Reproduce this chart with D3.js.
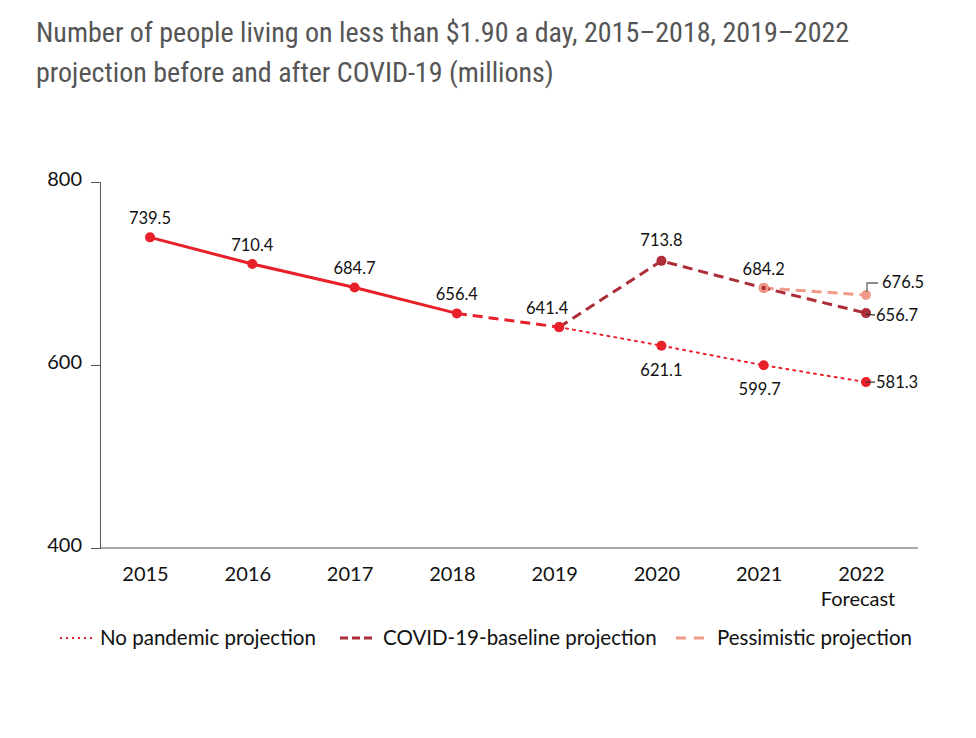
<!DOCTYPE html>
<html><head><meta charset="utf-8">
<script src="https://cdn.jsdelivr.net/npm/d3@7/dist/d3.min.js"></script>
<style>
body{margin:0;background:#fff;}
svg{display:block;}
</style></head>
<body><svg id="c" width="976" height="738"></svg>
<script>
const years = ["2015","2016","2017","2018","2019","2020","2021","2022"];
const actualYears = ["2015","2016","2017","2018"];
const actualValues = [739.5, 710.4, 684.7, 656.4];
const bridgeYears = ["2018","2019"];
const bridgeValues = [656.4, 641.4];
const projYears = ["2019","2020","2021","2022"];
const noPandemicValues = [641.4, 621.1, 599.7, 581.3];
const baselineValues = [641.4, 713.8, 684.2, 656.7];
const pessYears = ["2021","2022"];
const pessValues = [684.2, 676.5];
const yTicks = [400, 600, 800];

const RED = "#e8202a", DARK = "#ad2e38", PINK = "#f29a8a";
const svg = d3.select("#c");
const tickFont = "Lato, 'Open Sans', sans-serif";

// title
const title = svg.append("text").attr("x",36).attr("font-family","'Liberation Sans Narrow','Roboto Condensed',Roboto,sans-serif")
  .attr("font-size",28).attr("fill","#555");
title.append("tspan").attr("x",36).attr("y",42).text("Number of people living on less than $1.90 a day, 2015\u20132018, 2019\u20132022");
title.append("tspan").attr("x",36).attr("y",82).text("projection before and after COVID-19 (millions)");

const x = d3.scalePoint().domain(years).range([150, 866]);
const y = d3.scaleLinear().domain([400, 800]).range([548, 182]);

// axes
const yAxis = svg.append("g").attr("transform","translate(100,0)")
  .call(d3.axisLeft(y).tickValues(yTicks).tickSize(9).tickPadding(9));
yAxis.select(".domain").attr("stroke","#555");
yAxis.selectAll(".tick line").attr("stroke","#555");
yAxis.selectAll("text").attr("font-family",tickFont).attr("font-size",20).attr("fill","#111").attr("dy","0.15em");

svg.append("line").attr("x1",100).attr("x2",918).attr("y1",548).attr("y2",548).attr("stroke","#555");
const xAxisG = svg.append("g").attr("transform","translate(-5,548)")
  .call(d3.axisBottom(x).tickSize(0).tickPadding(19));
xAxisG.select(".domain").remove();
xAxisG.selectAll("text").attr("font-family",tickFont).attr("font-size",20).attr("fill","#111");
svg.append("text").attr("x",x("2022")-8).attr("y",606).attr("text-anchor","middle")
  .attr("font-family",tickFont).attr("font-size",20).attr("fill","#111").text("Forecast");

const line = d3.line().x(d=>x(d[0])).y(d=>y(d[1]));
const zip = (a,b)=>a.map((k,i)=>[k,b[i]]);

svg.append("path").datum(zip(projYears,noPandemicValues)).attr("d",line).attr("fill","none")
  .attr("stroke",RED).attr("stroke-width",2).attr("stroke-dasharray","2,5").attr("stroke-linecap","round");
svg.append("path").datum(zip(pessYears,pessValues)).attr("d",line).attr("fill","none")
  .attr("stroke",PINK).attr("stroke-width",3).attr("stroke-dasharray","10,6");
svg.append("path").datum(zip(projYears,baselineValues)).attr("d",line).attr("fill","none")
  .attr("stroke",DARK).attr("stroke-width",3).attr("stroke-dasharray","10,6");
svg.append("path").datum(zip(bridgeYears,bridgeValues)).attr("d",line).attr("fill","none")
  .attr("stroke",RED).attr("stroke-width",3).attr("stroke-dasharray","10,6");
svg.append("path").datum(zip(actualYears,actualValues)).attr("d",line).attr("fill","none")
  .attr("stroke",RED).attr("stroke-width",3);

function dots(data, color, r){
  svg.append("g").selectAll("circle").data(data).join("circle")
    .attr("cx",d=>x(d[0])).attr("cy",d=>y(d[1])).attr("r",r).attr("fill",color);
}
dots(zip(actualYears,actualValues), RED, 5);
dots(zip(projYears,noPandemicValues), RED, 5);
dots(zip(projYears.slice(1),baselineValues.slice(1)), DARK, 5);
dots(zip(pessYears,pessValues), PINK, 5);
dots([[ "2021", baselineValues[2] ]], DARK, 2.2);
dots([[ "2019", bridgeValues[1] ]], RED, 5);

// labels
const lab = svg.append("g").attr("font-family",tickFont).attr("font-size",16.5).attr("fill","#111");
function label(yr, v, dx, dy, anchor){
  lab.append("text").attr("x",x(yr)+dx).attr("y",y(v)+dy).attr("text-anchor",anchor||"middle").text(v.toFixed(1));
}
actualYears.forEach((yr,i)=>label(yr, actualValues[i], 0, -13));
label("2019", bridgeValues[1], -12, -13);
label("2020", baselineValues[1], 0, -15);
label("2021", baselineValues[2], 0, -13);
label("2020", noPandemicValues[1], 0, 30);
label("2021", noPandemicValues[2], -4, 30);
label("2022", noPandemicValues[3], 10, 6, "start");
label("2022", baselineValues[3], 10, 8, "start");
label("2022", pessValues[1], 16, -7, "start");
// leaders
svg.append("polyline").attr("points",`${x("2022")+1},${y(pessValues[1])-3} ${x("2022")+1},${y(pessValues[1])-12} ${x("2022")+12},${y(pessValues[1])-12}`)
  .attr("fill","none").attr("stroke","#666").attr("stroke-width",1.3);
svg.append("line").attr("x1",x("2022")).attr("x2",x("2022")+9).attr("y1",y(baselineValues[3])+1).attr("y2",y(baselineValues[3])+2).attr("stroke","#333").attr("stroke-width",1.2);
svg.append("line").attr("x1",x("2022")).attr("x2",x("2022")+9).attr("y1",y(noPandemicValues[3])).attr("y2",y(noPandemicValues[3])).attr("stroke","#333").attr("stroke-width",1.2);

// legend
const lg = svg.append("g").attr("font-family",tickFont).attr("font-size",20.5).attr("fill","#111");
const legendItems = ["No pandemic projection","COVID-19-baseline projection","Pessimistic projection"];
const legendX = [[60,95,100],[340,375,383],[676,708,717]];
const legendStyle = [[RED,2,"2,4"],[DARK,3,"8,4"],[PINK,3,"10,8"]];
legendItems.forEach((t,i)=>{
  lg.append("line").attr("x1",legendX[i][0]).attr("x2",legendX[i][1]).attr("y1",638).attr("y2",638)
    .attr("stroke",legendStyle[i][0]).attr("stroke-width",legendStyle[i][1]).attr("stroke-dasharray",legendStyle[i][2]);
  lg.append("text").attr("x",legendX[i][2]).attr("y",645).text(t);
});
</script></body></html>
